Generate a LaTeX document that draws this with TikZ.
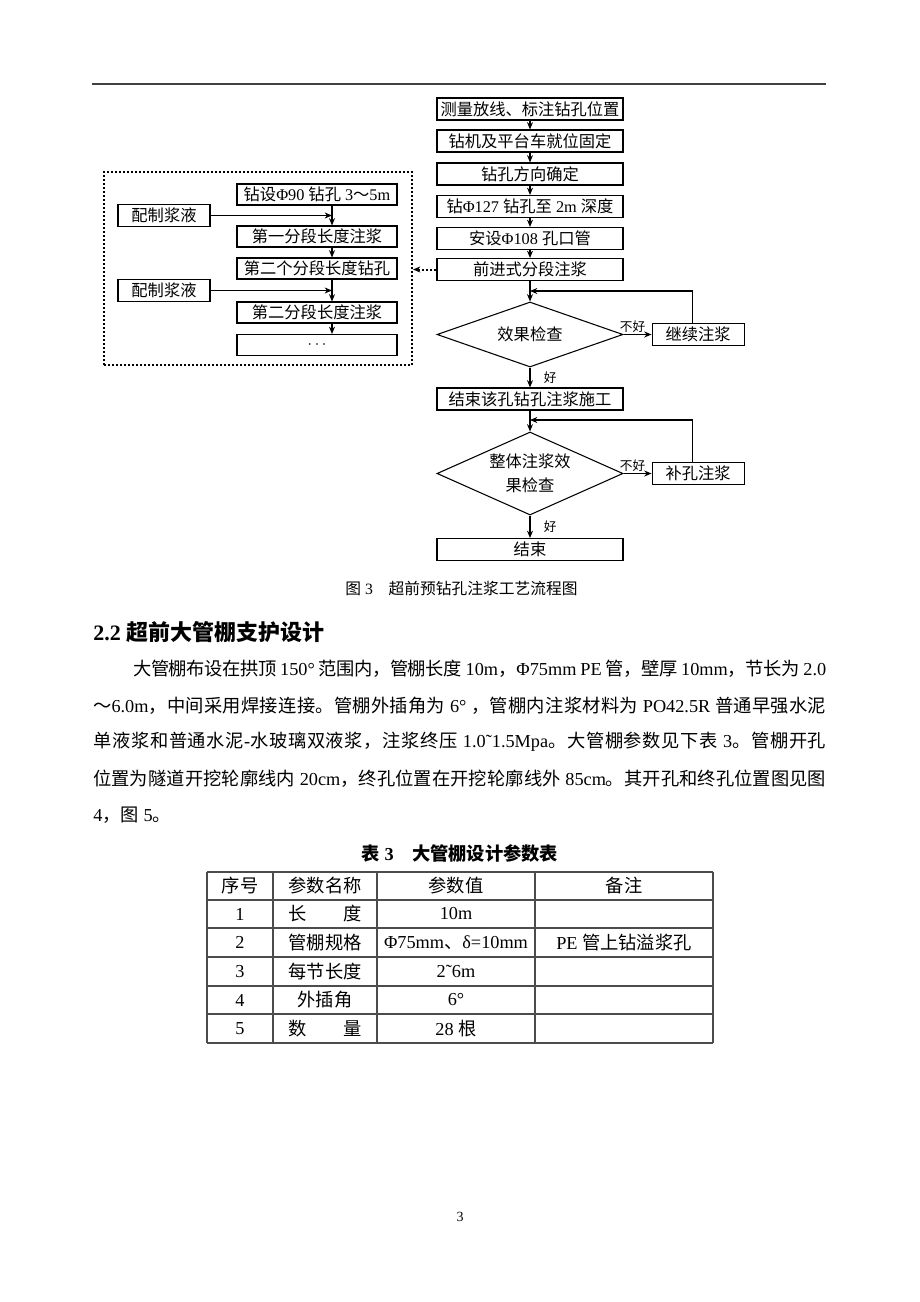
\documentclass[tikz,border=0pt]{standalone}
\usepackage{fontspec}
\setmainfont{Liberation Serif}
\newfontfamily\cjkfont{Noto Sans CJK SC}
\usetikzlibrary{shapes.geometric,positioning,arrows.meta}

% switch to the CJK font for Chinese characters
\newXeTeXintercharclass\cjkclass
\newcount\cjkcode
\cjkcode="2E80
\loop
  \XeTeXcharclass\cjkcode=\cjkclass
  \advance\cjkcode by 1
\ifnum\cjkcode<"A000 \repeat
\cjkcode="FF00
\loop
  \XeTeXcharclass\cjkcode=\cjkclass
  \advance\cjkcode by 1
\ifnum\cjkcode<"FFF0 \repeat
\XeTeXinterchartoks 0 \cjkclass={\cjkfont}
\XeTeXinterchartoks 4095 \cjkclass={\cjkfont}
\XeTeXinterchartoks \cjkclass 0={\rmfamily}
\XeTeXinterchartoks \cjkclass 4095={\rmfamily}
\XeTeXinterchartoks \cjkclass \cjkclass={\hskip 0pt plus 0.15em minus 0.05em\relax}
\XeTeXinterchartokenstate=1

\newcommand\flowfont{\fontsize{12.2pt}{14pt}\selectfont}
\newcommand\yesnofont{\fontsize{9.5pt}{11pt}\selectfont}
\newcommand\bodyfont{\fontsize{13.7pt}{16pt}\selectfont}
\newcommand\headfont{\fontsize{16.5pt}{19pt}\selectfont\bfseries}
\newcommand\capfont{\fontsize{11.8pt}{14pt}\selectfont}

\begin{document}
\begin{tikzpicture}[x=0.75pt, y=-0.75pt,
    box/.style={draw, line width=0.8pt, minimum width=139.5pt,
        minimum height=16.5pt, inner sep=1pt, font=\flowfont},
    subbox/.style={box, minimum width=120pt, minimum height=15.75pt},
    sidebox/.style={box, minimum width=69pt},
    check/.style={diamond, draw, line width=0.8pt, aspect=2.5,
        minimum width=139.5pt, inner sep=0pt, font=\flowfont, align=center},
    groupframe/.style={draw, line width=1.5pt, dash pattern=on 1.5pt off 1.5pt,
        minimum width=231pt, minimum height=144.75pt},
    flow/.style={-{Stealth[length=5.5pt,width=4.5pt]}, line width=0.8pt},
    dotflow/.style={flow, line width=1.5pt, dash pattern=on 1.5pt off 1.5pt},
    yesno/.style={font=\yesnofont, inner sep=1pt},
    textline/.style={anchor=west, inner sep=0pt, font=\bodyfont},
    tablecell/.style={font=\bodyfont, inner sep=0pt},
    tablerule/.style={line width=0.8pt, black!70}
]
    \fill[white] (0,0) rectangle (920,1302);
    \useasboundingbox (0,0) rectangle (920,1302);

    % page rule
    \draw[line width=1.1pt, black!75] (92,84) -- (826,84);

    % main column
    \node[box] (Survey) at (530,109) {测量放线、标注钻孔位置};
    \node[box] (Rig) at (530,141) {钻机及平台车就位固定};
    \node[box] (Direction) at (530,174) {钻孔方向确定};
    \node[box] (Drill127) at (530,206.5) {钻Φ127 钻孔至 2m 深度};
    \node[box] (Pipe108) at (530,238.5) {安设Φ108 孔口管};
    \node[box] (Advance) at (530,269.5) {前进式分段注浆};
    \node[check, minimum height=48.75pt] (Check1) at (530,334.5) {效果检查};
    \node[sidebox, right=21pt of Check1] (Retry) {继续注浆};
    \node[box] (Finish) at (530,399) {结束该孔钻孔注浆施工};
    \node[check, minimum height=62.25pt,
        font=\fontsize{12.2pt}{18pt}\selectfont
    ] (Check2) at (530,473.5) {整体注浆效\\果检查};
    \node[sidebox, right=21pt of Check2] (Patch) {补孔注浆};
    \node[box] (End) at (530,549.5) {结束};

    % segment grouting detail
    \node[groupframe] (Group) at (258,268.5) {};
    \node[subbox] (Drill90) at (317,194.5) {钻设Φ90 钻孔 3～5m};
    \node[subbox] (Grout1) at (317,236.5) {第一分段长度注浆};
    \node[subbox] (Drill2) at (317,268.5) {第二个分段长度钻孔};
    \node[subbox] (Grout2) at (317,312.5) {第二分段长度注浆};
    \node[subbox] (More) at (317,345) {$\cdots$};
    \node[sidebox] (Mix1) at (164,215.5) {配制浆液};
    \node[sidebox] (Mix2) at (164,290.5) {配制浆液};

    % arrows
    \foreach \a/\b in {Survey/Rig, Rig/Direction, Direction/Drill127,
        Drill127/Pipe108, Pipe108/Advance, Advance/Check1, Finish/Check2}
        \draw[flow] (\a.south) -- (\b.north);
    \foreach \a/\b in {Drill90/Grout1, Grout1/Drill2, Drill2/Grout2, Grout2/More}
        \draw[flow] ([xshift=11.25pt]\a.south) -- ([xshift=11.25pt]\b.north);
    \coordinate (Join1) at ([xshift=11.25pt]Drill90.south);
    \coordinate (Join2) at ([xshift=11.25pt]Drill2.south);
    \draw[flow] (Mix1.east) -- (Mix1.east -| Join1);
    \draw[flow] (Mix2.east) -- (Mix2.east -| Join2);
    \draw[dotflow] (Advance.west) -- (Advance.west -| Group.east);

    % checks with text label
    \coordinate (Back1) at (530,291);
    \coordinate (Back2) at (530,420);
    \draw[flow] (Check1.east) -- (Retry.west)
    node[yesno, pos=0.32, above]{不好};
    \draw[flow] ([xshift=-4.5pt]Retry.north) |- (Back1);
    \draw[flow] (Check1.south) -- (Finish.north)
    node[yesno, midway, right=9pt]{好};
    \draw[flow] (Check2.east) -- (Patch.west)
    node[yesno, pos=0.32, above]{不好};
    \draw[flow] ([xshift=-4.5pt]Patch.north) |- (Back2);
    \draw[flow] (Check2.south) -- (End.north)
    node[yesno, midway, right=9pt]{好};

    \node[font=\capfont] (Caption) at (461.5,588) {图 3\quad 超前预钻孔注浆工艺流程图};

    % section text
    \node[anchor=west, inner sep=0pt, font=\headfont] (Heading) at (93,632) {2.2 超前大管棚支护设计};
    \node[textline] (Line1) at (133,669) {\hbox to 519.75pt{大管棚布设在拱顶 150° 范围内，管棚长度 10m，Φ75mm PE 管，壁厚 10mm，节长为 2.0}};
    \node[textline] (Line2) at (93,706) {\hbox to 549.75pt{～6.0m，中间采用焊接连接。管棚外插角为 6° ，管棚内注浆材料为 PO42.5R 普通早强水泥}};
    \node[textline] (Line3) at (93,742) {\hbox to 549.75pt{单液浆和普通水泥-水玻璃双液浆，注浆终压 1.0˜1.5Mpa。大管棚参数见下表 3。管棚开孔}};
    \node[textline] (Line4) at (93,779) {\hbox to 549.75pt{位置为隧道开挖轮廓线内 20cm，终孔位置在开挖轮廓线外 85cm。其开孔和终孔位置图见图}};
    \node[textline] (Line5) at (93,815) {4，图 5。};

    % table
    \node[font=\bodyfont\bfseries] (TableTitle) at (460,853) {表 3\quad 大管棚设计参数表};
    \foreach \y in {872,900,928,957,986,1014,1043}
        \draw[tablerule] (207,\y) -- (713,\y);
    \foreach \x in {207,273,377,535,713}
        \draw[tablerule] (\x,872) -- (\x,1043);
    \foreach \y/\no/\item/\val/\note [count=\r] in {886/序号/参数名称/参数值/备注,
        914/1/长　　度/10m/{}, 942.5/2/管棚规格/{Φ75mm、δ=10mm}/PE 管上钻溢浆孔,
        971.5/3/每节长度/2˜6m/{}, 1000/4/外插角/6°/{}, 1028.5/5/数　　量/28 根/{}} {
        \node[tablecell] (No\r) at (240,\y) {\no};
        \node[tablecell] (Item\r) at (325,\y) {\item};
        \node[tablecell] (Value\r) at (456,\y) {\val};
        \node[tablecell] (Note\r) at (624,\y) {\note};
    }

    \node[font=\fontsize{10.5pt}{12pt}\selectfont] (PageNo) at (460,1217) {3};
\end{tikzpicture}
\end{document}
